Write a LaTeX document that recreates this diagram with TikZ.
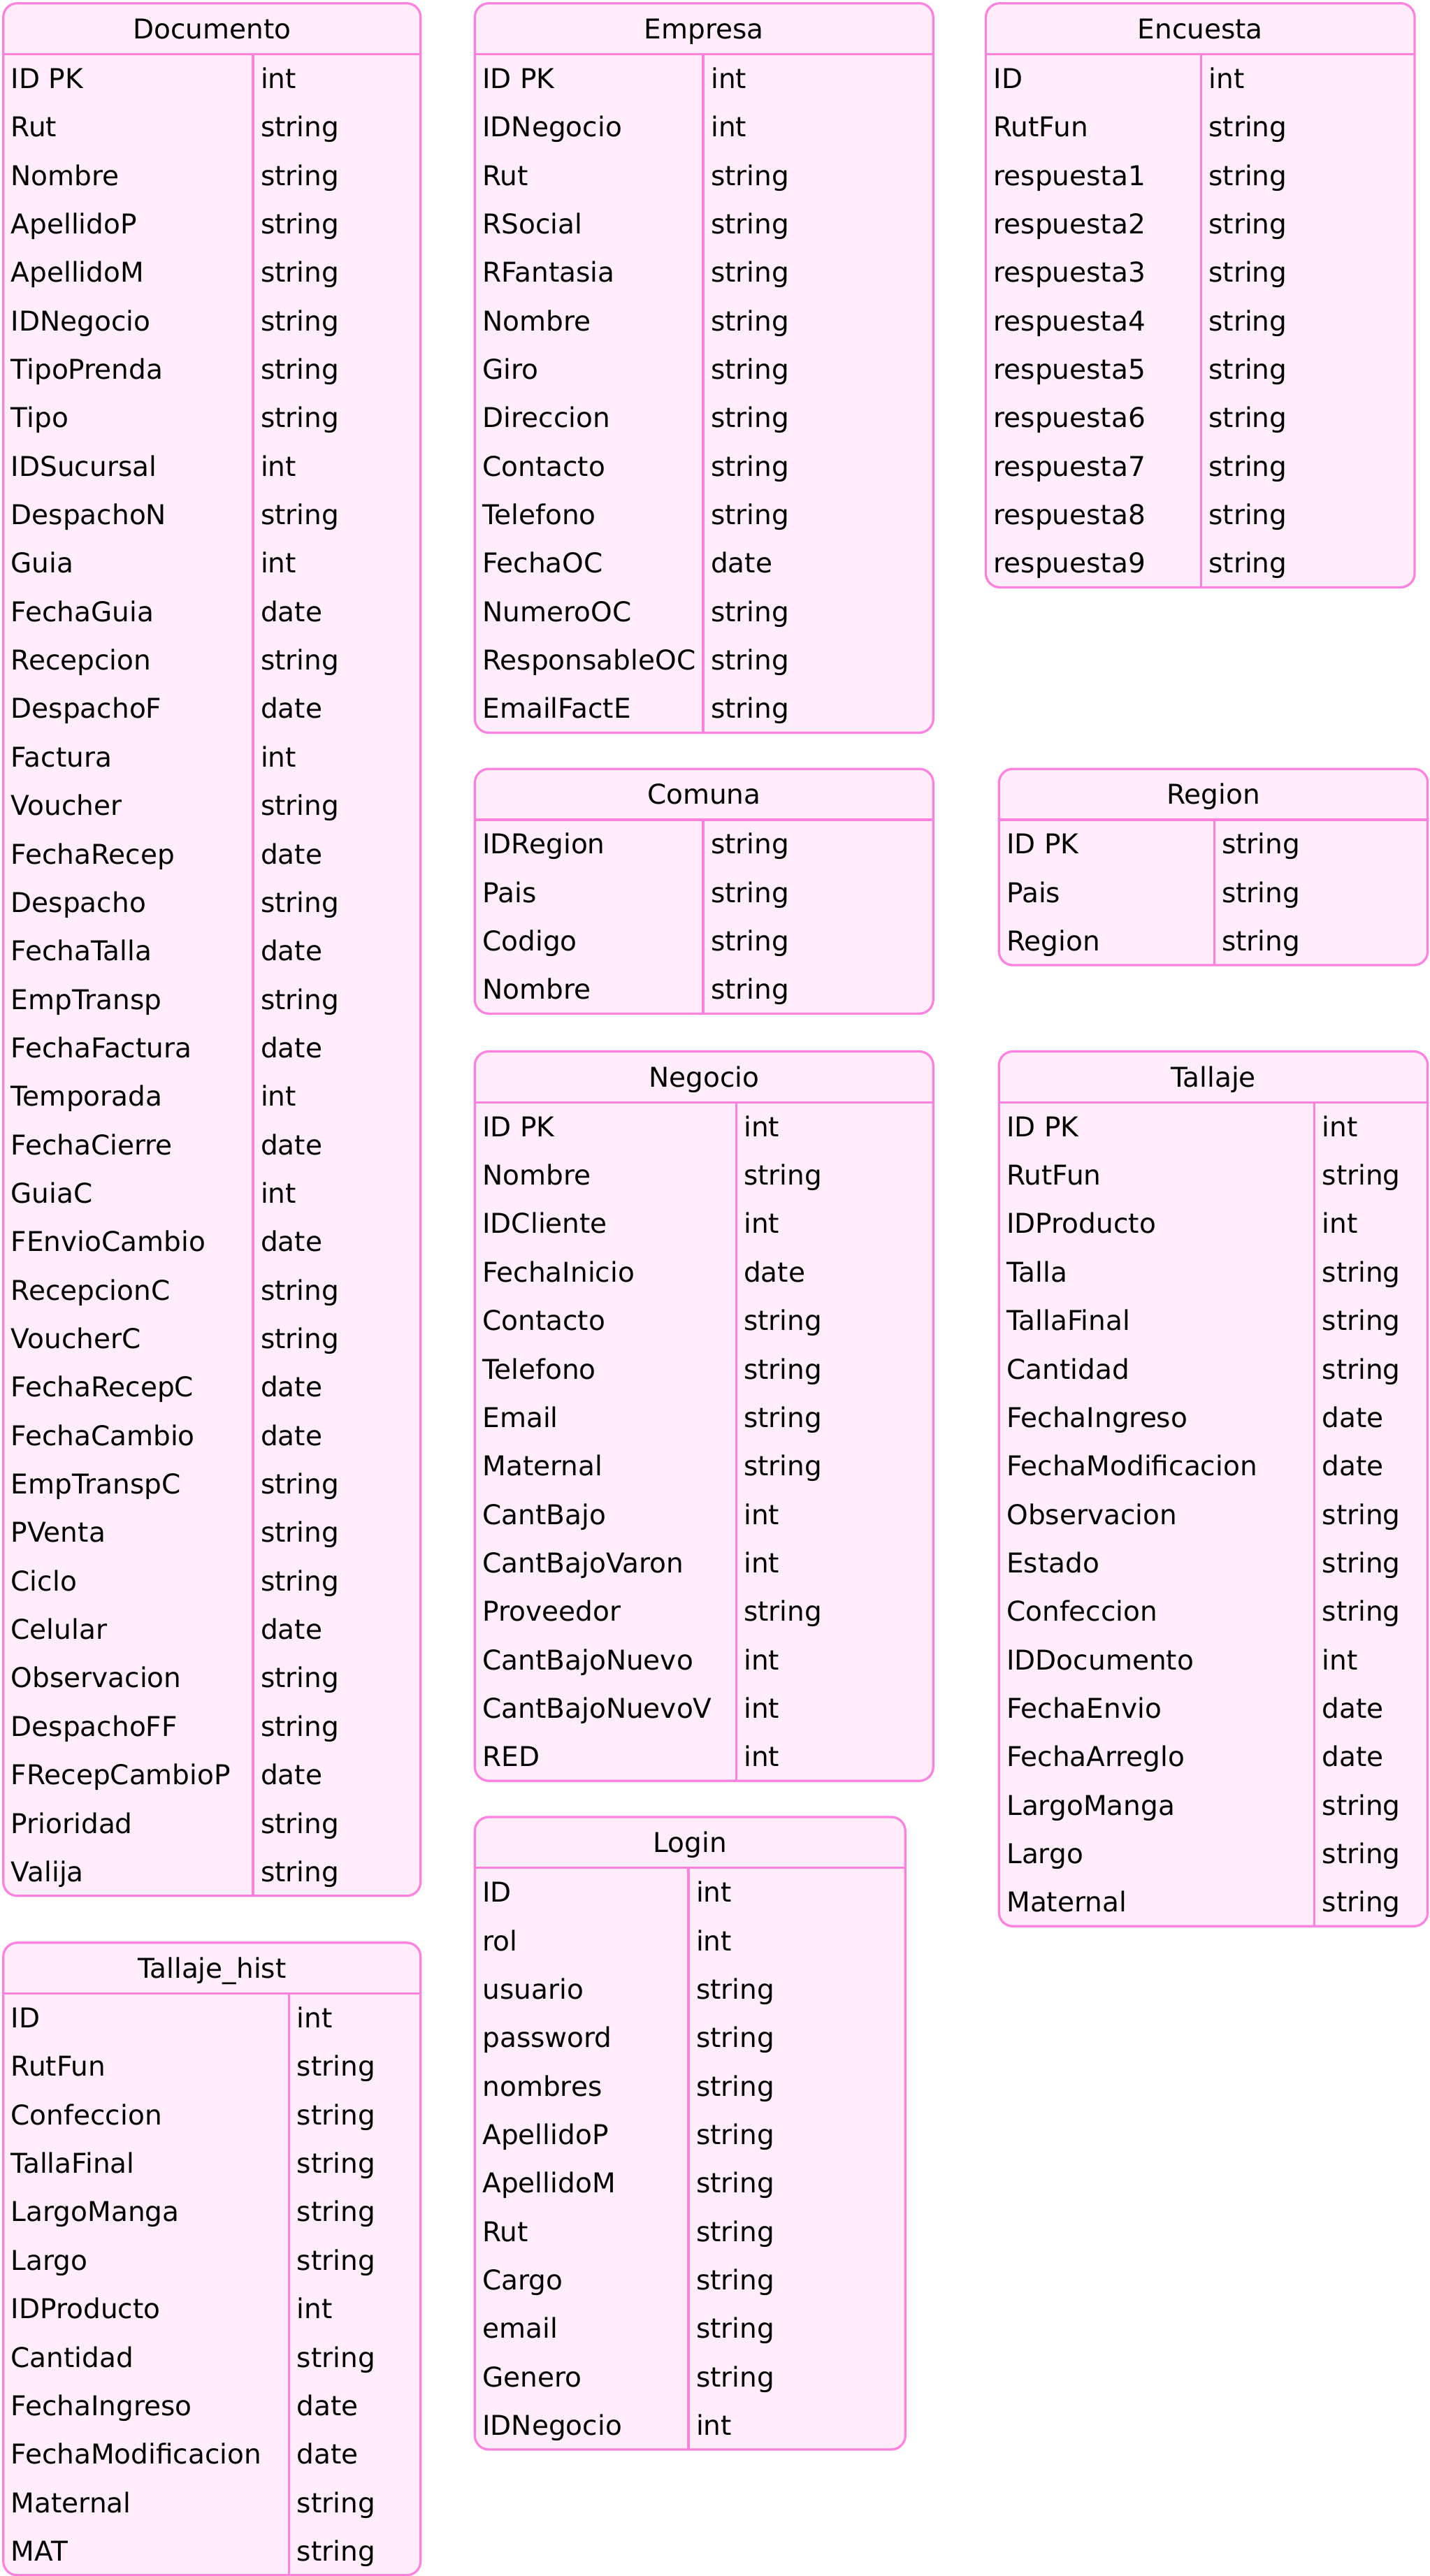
\documentclass[tikz,border=0pt]{standalone}
\usepackage{fontspec}
\setmainfont{DejaVu Sans}
\definecolor{erline}{HTML}{FF82DF}
\definecolor{erfill}{HTML}{FFEEFA}

% #1 name, #2 title, #3 left x, #4 right x, #5 column divider x, #6 top y, #7 rows field/type
\newcommand{\ertable}[7]{%
  \def\ernrows{0}%
  \foreach \f/\t [count=\i] in {#7} {\xdef\ernrows{\i}}%
  \pgfmathsetmacro\erh{31+\ernrows*29.5}%
  \node[tblbox, minimum width={(#4-#3)*1pt}, minimum height={\erh*1pt}] (#1) at (#3,#6) {};
  \draw[tblrule] (#3,{#6+31}) -- (#4,{#6+31});
  \draw[tblrule] (#5,{#6+31}) -- (#5,{#6+\erh});
  \node[titletext] (#1-title) at ({(#3+#4)/2},{#6+15.5+6.05}) {#2};
  \foreach \f/\t [count=\i] in {#7} {%
    \pgfmathsetmacro\ery{#6+31+(\i-0.5)*29.5+6.05}
    \node[celltext] (#1-f\i) at ({#3+4.5},\ery) {\f};
    \node[celltext] (#1-t\i) at ({#5+4.5},\ery) {\t};
  }%
}

\begin{document}
\begin{tikzpicture}[x=1pt,y=-1pt,
  tblbox/.style={draw=erline, fill=erfill, line width=1.4pt, rounded corners=8.5pt,
    inner sep=0pt, outer sep=0pt, anchor=north west},
  tblrule/.style={draw=erline, line width=1.4pt},
  celltext/.style={inner sep=0pt, anchor=base west, font=\fontsize{16.6}{20}\selectfont},
  titletext/.style={inner sep=0pt, anchor=base, font=\fontsize{16.6}{20}\selectfont}]
\useasboundingbox (0,0) rectangle (870,1568);

\ertable{documento}{Documento}{2}{256}{154}{2}{%
  ID PK/int, Rut/string, Nombre/string, ApellidoP/string, ApellidoM/string,
  IDNegocio/string, TipoPrenda/string, Tipo/string, IDSucursal/int,
  DespachoN/string, Guia/int, FechaGuia/date, Recepcion/string, DespachoF/date,
  Factura/int, Voucher/string, FechaRecep/date, Despacho/string, FechaTalla/date,
  EmpTransp/string, FechaFactura/date, Temporada/int, FechaCierre/date, GuiaC/int,
  FEnvioCambio/date, RecepcionC/string, VoucherC/string, FechaRecepC/date,
  FechaCambio/date, EmpTranspC/string, PVenta/string, Ciclo/string, Celular/date,
  Observacion/string, DespachoFF/string, FRecepCambioP/date, Prioridad/string,
  Valija/string}

\ertable{tallajehist}{Tallaje\_hist}{2}{256}{176}{1182.5}{%
  ID/int, RutFun/string, Confeccion/string, TallaFinal/string, LargoManga/string,
  Largo/string, IDProducto/int, Cantidad/string, FechaIngreso/date,
  FechaModificacion/date, Maternal/string, MAT/string}

\ertable{empresa}{Empresa}{289}{568}{428}{2}{%
  ID PK/int, IDNegocio/int, Rut/string, RSocial/string, RFantasia/string,
  Nombre/string, Giro/string, Direccion/string, Contacto/string, Telefono/string,
  FechaOC/date, NumeroOC/string, ResponsableOC/string, EmailFactE/string}

\ertable{comuna}{Comuna}{289}{568}{428}{468}{%
  IDRegion/string, Pais/string, Codigo/string, Nombre/string}

\ertable{negocio}{Negocio}{289}{568}{448}{640}{%
  ID PK/int, Nombre/string, IDCliente/int, FechaInicio/date, Contacto/string,
  Telefono/string, Email/string, Maternal/string, CantBajo/int, CantBajoVaron/int,
  Proveedor/string, CantBajoNuevo/int, CantBajoNuevoV/int, RED/int}

\ertable{login}{Login}{289}{551}{419}{1106}{%
  ID/int, rol/int, usuario/string, password/string, nombres/string,
  ApellidoP/string, ApellidoM/string, Rut/string, Cargo/string, email/string,
  Genero/string, IDNegocio/int}

\ertable{encuesta}{Encuesta}{600}{861}{731}{2}{%
  ID/int, RutFun/string, respuesta1/string, respuesta2/string, respuesta3/string,
  respuesta4/string, respuesta5/string, respuesta6/string, respuesta7/string,
  respuesta8/string, respuesta9/string}

\ertable{region}{Region}{608}{869}{739}{468}{%
  ID PK/string, Pais/string, Region/string}

\ertable{tallaje}{Tallaje}{608}{869}{800}{640}{%
  ID PK/int, RutFun/string, IDProducto/int, Talla/string, TallaFinal/string,
  Cantidad/string, FechaIngreso/date, FechaModificacion/date, Observacion/string,
  Estado/string, Confeccion/string, IDDocumento/int, FechaEnvio/date,
  FechaArreglo/date, LargoManga/string, Largo/string, Maternal/string}
\end{tikzpicture}
\end{document}
